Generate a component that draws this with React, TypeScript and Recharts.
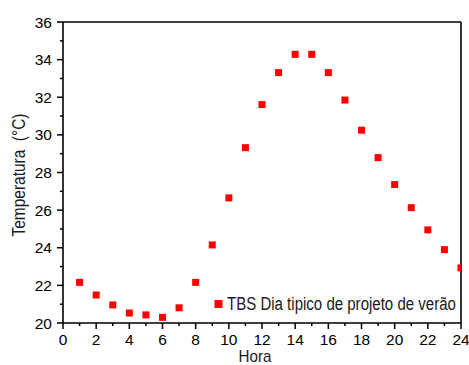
import React from 'react';
import { ScatterChart, Scatter, XAxis, YAxis, ReferenceLine, Customized } from 'recharts';

if (typeof document !== 'undefined') {
  document.body.style.margin = '0';
}

const hours = [1, 2, 3, 4, 5, 6, 7, 8, 9, 10, 11, 12, 13, 14, 15, 16, 17, 18, 19, 20, 21, 22, 23, 24];
const temps = [22.16, 21.49, 20.96, 20.53, 20.43, 20.3, 20.81, 22.16, 24.15, 26.65, 29.32, 31.61, 33.31, 34.28, 34.28, 33.31, 31.85, 30.25, 28.79, 27.36, 26.13, 24.95, 23.9, 22.93];
const xTicks = [0, 1, 2, 3, 4, 5, 6, 7, 8, 9, 10, 11, 12, 13, 14, 15, 16, 17, 18, 19, 20, 21, 22, 23, 24];
const yTicks = [20, 21, 22, 23, 24, 25, 26, 27, 28, 29, 30, 31, 32, 33, 34, 35, 36];
const seriesName = 'TBS Dia tipico de projeto de verão';
const xTitle = 'Hora';
const yTitle = 'Temperatura\u00a0 (°C)';

const data = hours.map((h, i) => ({ hora: h, temp: temps[i] }));

const FONT = '"Liberation Sans", Arial, sans-serif';

const XTick = (props: any) => {
  const { x, y, payload } = props;
  const v = payload.value;
  const major = v % 2 === 0;
  return (
    <g>
      <line x1={x} x2={x} y1={y} y2={y + (major ? 6 : 3)} stroke="#000" strokeWidth={1.5} />
      {major && (
        <text x={x} y={y + 22} textAnchor="middle" fontSize={15.5} fontFamily={FONT} fill="#000">
          {v}
        </text>
      )}
    </g>
  );
};

const YTick = (props: any) => {
  const { x, y, payload } = props;
  const v = payload.value;
  const major = v % 2 === 0;
  return (
    <g>
      <line x1={x - (major ? 6 : 3)} x2={x} y1={y} y2={y} stroke="#000" strokeWidth={1.5} />
      {major && (
        <text x={x - 11} y={y + 5.5} textAnchor="end" fontSize={15.5} fontFamily={FONT} fill="#000">
          {v}
        </text>
      )}
    </g>
  );
};

const Square = (props: any) => {
  const { cx, cy } = props;
  return <rect x={cx - 3.5} y={cy - 3.5} width={7} height={7} fill="#ff0000" />;
};

const Extras = () => (
  <g>
    <rect x={214.5} y={300} width={8} height={8} fill="#ff0000" />
    <g transform="translate(227, 309.5) scale(0.835, 1)">
      <text x={0} y={0} fontSize={18} fontFamily={FONT} fill="#1a1a1a">
        {seriesName}
      </text>
    </g>
    <g transform="translate(255, 361.5) scale(0.95, 1)">
      <text x={0} y={0} textAnchor="middle" fontSize={16} fontFamily={FONT} fill="#1a1a1a">
        {xTitle}
      </text>
    </g>
    <g transform="translate(25, 175) rotate(-90) scale(0.86, 1)">
      <text x={0} y={0} textAnchor="middle" fontSize={18} fontFamily={FONT} fill="#1a1a1a">
        {yTitle}
      </text>
    </g>
  </g>
);

export default function App() {
  return (
    <div style={{ width: 469, height: 365, background: '#fff' }}>
      <ScatterChart width={469} height={365} margin={{ top: 22, right: 8, bottom: 0, left: 0 }}>
        <XAxis
          type="number"
          dataKey="hora"
          domain={[0, 24]}
          ticks={xTicks}
          interval={0}
          allowDataOverflow
          height={42}
          tickSize={0}
          tickMargin={0}
          tickLine={false}
          tick={<XTick />}
          axisLine={{ stroke: '#000', strokeWidth: 1.6 }}
        />
        <YAxis
          type="number"
          dataKey="temp"
          domain={[20, 36]}
          ticks={yTicks}
          interval={0}
          allowDataOverflow
          width={63}
          tickSize={0}
          tickMargin={0}
          tickLine={false}
          tick={<YTick />}
          axisLine={{ stroke: '#000', strokeWidth: 1.6 }}
        />
        <ReferenceLine y={36} stroke="#000" strokeWidth={1.6} />
        <ReferenceLine x={24} stroke="#000" strokeWidth={1.6} />
        <Scatter name={seriesName} data={data} shape={<Square />} isAnimationActive={false} />
        <Customized component={<Extras />} />
      </ScatterChart>
    </div>
  );
}
